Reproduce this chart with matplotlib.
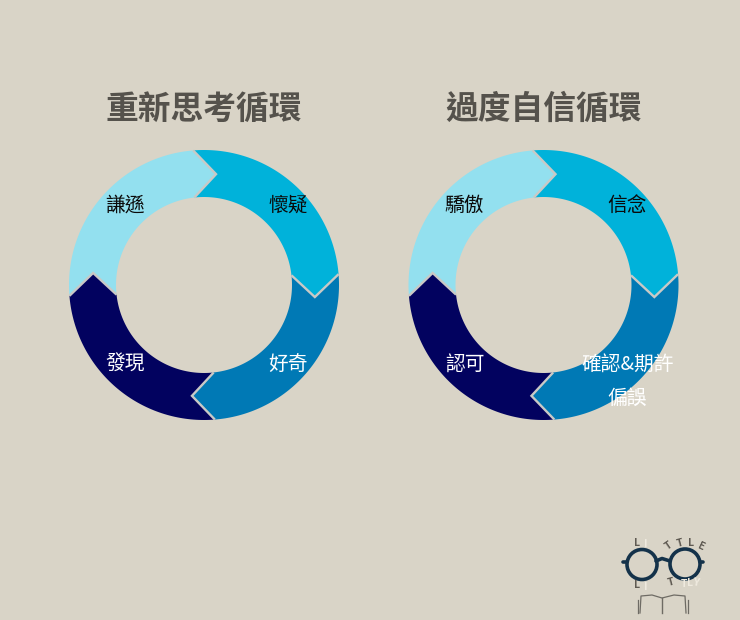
import numpy as np
import matplotlib
matplotlib.use("Agg")
import matplotlib.pyplot as plt
from matplotlib.patches import Polygon, Circle

plt.rcParams['font.family'] = ['Noto Sans CJK TC', 'DejaVu Sans']

titles = ["重新思考循環", "過度自信循環"]
stage_values = [25, 25, 25, 25]
stage_colors = ["#00b2da", "#0079b5", "#02025f", "#93e0ef"]
left_labels = ["懷疑", "好奇", "發現", "謙遜"]
right_labels = ["信念", "確認&期許\n偏誤", "認可", "驕傲"]
label_colors = ["#0a0a0a", "white", "white", "#0a0a0a"]

BG = "#d9d4c7"
EDGE = "#c9c9c6"
R_OUT, R_IN = 135, 88
R_MID = (R_OUT + R_IN) / 2
OUT_OFF, IN_OFF, TIP_OFF = -4.6, -6.3, 6.2

fig = plt.figure(figsize=(7.4, 6.2), dpi=100, facecolor=BG)
ax = fig.add_axes([0, 0, 1, 1])
ax.set_xlim(0, 740)
ax.set_ylim(620, 0)
ax.axis("off")


def pt(cx, cy, r, deg):
    a = np.deg2rad(deg)
    return cx + r * np.sin(a), cy - r * np.cos(a)


def ring(cx, cy):
    total = sum(stage_values)
    start = 0
    for val, col in zip(stage_values, stage_colors):
        end = start + 360 * val / total
        outer = np.linspace(start + OUT_OFF, end + OUT_OFF, 80)
        inner = np.linspace(end + IN_OFF, start + IN_OFF, 80)
        pts = [pt(cx, cy, R_OUT, t) for t in outer]
        pts.append(pt(cx, cy, R_MID, end + TIP_OFF))
        pts += [pt(cx, cy, R_IN, t) for t in inner]
        pts.append(pt(cx, cy, R_MID, start + TIP_OFF))
        ax.add_patch(Polygon(pts, closed=True, facecolor=col, edgecolor="none"))
        start = end
    start = 0
    for val in stage_values:
        chev = [pt(cx, cy, R_OUT, start + OUT_OFF), pt(cx, cy, R_MID, start + TIP_OFF),
                pt(cx, cy, R_IN, start + IN_OFF)]
        xs, ys = zip(*chev)
        ax.plot(xs, ys, color=EDGE, lw=1.7, solid_joinstyle="miter", solid_capstyle="butt")
        start += 360 * val / total


def labels(cx, cy, labs):
    spots = [(84, -81), (84, 78), (-79, 78), (-79, -81)]
    for (dx, dy), lab, col in zip(spots, labs, label_colors):
        parts = lab.split("\n")
        for k, part in enumerate(parts):
            ax.text(cx + dx, cy + dy + 1 + 34 * k, part, ha="center", va="center", color=col, fontsize=14.2)


for cx, cy, labs, title in [(204, 285, left_labels, titles[0]), (543.5, 285, right_labels, titles[1])]:
    ring(cx, cy)
    labels(cx, cy, labs)
    ax.text(cx, 109, title, ha="center", va="center", fontsize=23.6, fontweight="bold", color="#55524c")

# logo
navy = "#14324a"
ax.add_patch(Circle((642, 564.5), 15, fill=False, ec=navy, lw=2.6))
ax.add_patch(Circle((685, 564), 15, fill=False, ec=navy, lw=2.6))
ax.plot([656, 662, 670], [561, 558.5, 561], color=navy, lw=2.6, solid_capstyle="round")
ax.plot([623, 626], [562, 562], color=navy, lw=2.6, solid_capstyle="round")
ax.plot([700, 703], [562, 562], color=navy, lw=2.6, solid_capstyle="round")
letters = [
    ("L", 637, 543, 0, "#5f5a52"), ("I", 646, 544, 0, "#efeadf"),
    ("T", 669, 546, 35, "#5f5a52"), ("T", 680, 543, 15, "#5f5a52"),
    ("L", 691, 543, 0, "#5f5a52"), ("E", 701, 547, -25, "#5f5a52"),
    ("L", 637, 585, 0, "#5f5a52"), ("I", 646, 587, 0, "#efeadf"),
    ("T", 671, 582, 15, "#5f5a52"), ("T", 684, 584, 0, "#efeadf"),
    ("L", 690, 583, 0, "#efeadf"), ("Y", 696, 583, -10, "#efeadf"),
]
for s, x, y, rot, c in letters:
    ax.text(x, y, s, ha="center", va="center", fontsize=7.5, rotation=rot, color=c, fontweight="bold")
book = "#6e6b64"
ax.plot([640, 641, 652, 662, 674, 685, 686], [613, 596, 595, 598, 595, 596, 613], color=book, lw=0.9)
ax.plot([662, 662], [598, 613], color=book, lw=1)
for x in [638, 688]:
    ax.plot([x, x], [600, 613], color=book, lw=0.9)

fig.savefig("out.png", dpi=100, facecolor=BG)
